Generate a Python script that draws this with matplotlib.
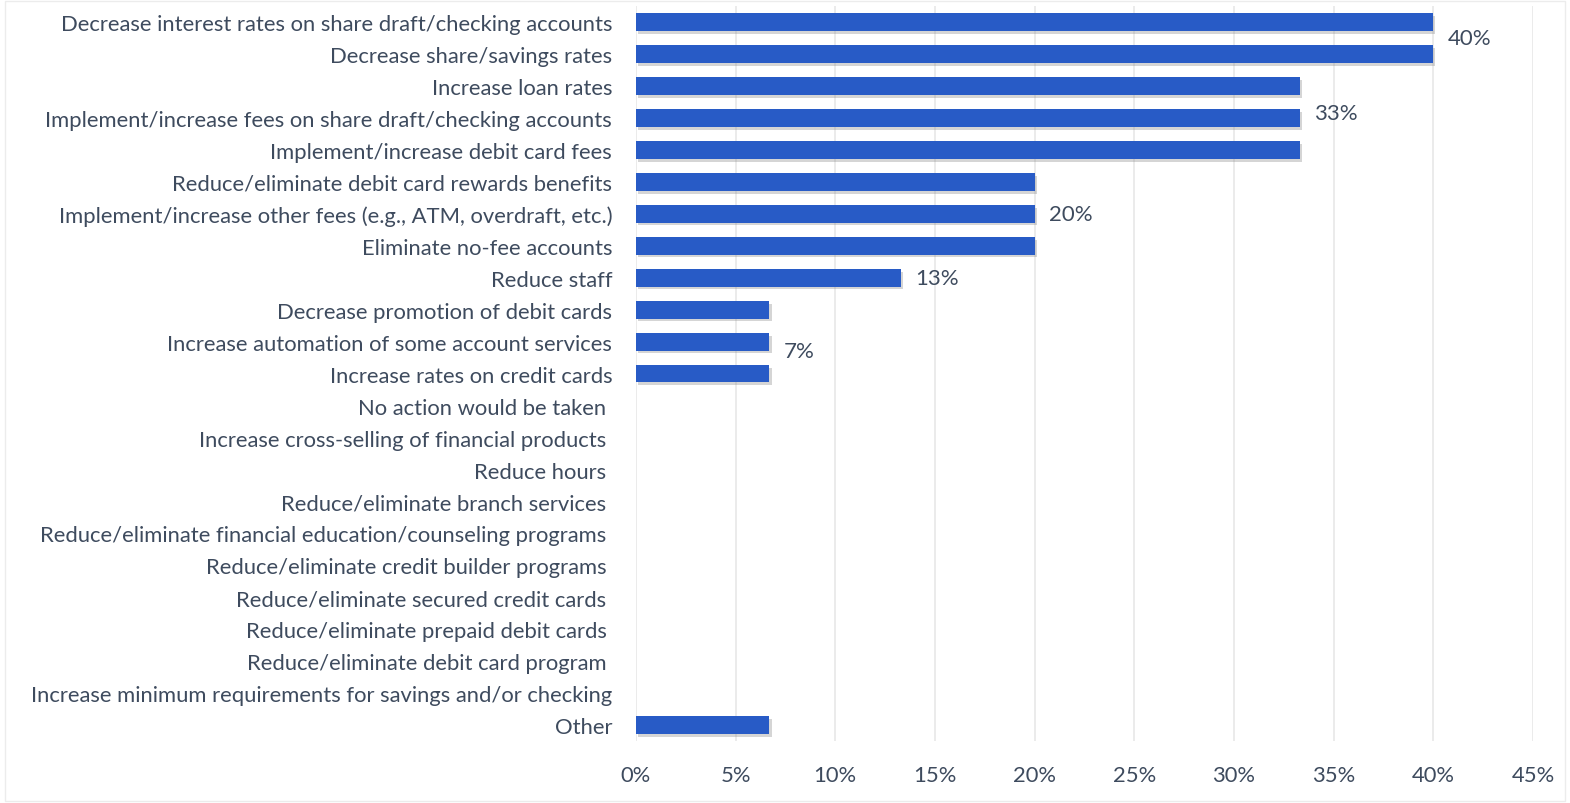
import matplotlib
matplotlib.use("Agg")
import matplotlib.pyplot as plt
import matplotlib.patheffects as pe
import numpy as np

# datos (porcentaje de respuestas)
categories = [
    "Decrease interest rates on share draft/checking accounts",
    "Decrease share/savings rates",
    "Increase loan rates",
    "Implement/increase fees on share draft/checking accounts",
    "Implement/increase debit card fees",
    "Reduce/eliminate debit card rewards benefits",
    "Implement/increase other fees (e.g., ATM, overdraft, etc.)",
    "Eliminate no-fee accounts",
    "Reduce staff",
    "Decrease promotion of debit cards",
    "Increase automation of some account services",
    "Increase rates on credit cards",
    "No action would be taken ",
    "Increase cross-selling of financial products ",
    "Reduce hours ",
    "Reduce/eliminate branch services ",
    "Reduce/eliminate financial education/counseling programs ",
    "Reduce/eliminate credit builder programs ",
    "Reduce/eliminate secured credit cards ",
    "Reduce/eliminate prepaid debit cards ",
    "Reduce/eliminate debit card program ",
    "Increase minimum requirements for savings and/or checking",
    "Other",
]
values = [40.0, 40.0, 33.3, 33.3, 33.3, 20.0, 20.0, 20.0, 13.3, 6.7, 6.7, 6.7,
          0, 0, 0, 0, 0, 0, 0, 0, 0, 0, 6.7]

# etiquetas de valor: fila (indice de categoria) y texto
label_rows = [0.5, 2.85, 6, 8, 10.3]
label_values = [40.0, 33.3, 20.0, 13.3, 6.7]
label_texts = ["40%", "33%", "20%", "13%", "7%"]

xticks = [0, 5, 10, 15, 20, 25, 30, 35, 40, 45]

text_color = "#3e4b5e"
bar_color = "#285bc6"

plt.rcParams['font.family'] = ['Lato', 'DejaVu Sans']

fig = plt.figure(figsize=(15.7, 8.04), dpi=100)
ax = fig.add_axes([0.405, 0.077, 0.5715, 0.914])

y = np.arange(len(categories))
bars = ax.barh(y, values, height=0.55, color=bar_color, zorder=3)
for b in bars:
    if b.get_width() > 0:
        b.set_path_effects([pe.SimplePatchShadow(offset=(1.5, -2), shadow_rgbFace="#888888", alpha=0.35),
                            pe.Normal()])

for row, val, txt in zip(label_rows, label_values, label_texts):
    ax.annotate(txt, (val, row), xytext=(10, 0), textcoords="offset points",
                ha="left", va="center", fontsize=16, color=text_color)

ax.set_xlim(0, 45)
ax.set_ylim(len(categories) - 0.5, -0.5)
ax.set_xticks(xticks)
ax.set_xticklabels([f"{t}%" for t in xticks])
ax.set_yticks(y)
ax.set_yticklabels(categories)
ax.tick_params(axis="y", length=0, pad=17, labelsize=15.8, labelcolor=text_color)
ax.tick_params(axis="x", length=0, pad=17, labelsize=15.8, labelcolor=text_color)
ax.grid(axis="x", color="#e8e8e8", linewidth=1.2, zorder=0)
for s in ax.spines.values():
    s.set_visible(False)

# borde tenue del area del grafico
fig.patches.append(plt.Rectangle((0.003, 0.002), 0.994, 0.996, transform=fig.transFigure,
                                 fill=False, edgecolor="#ececec", linewidth=1))

fig.savefig("out.png", dpi=100)
